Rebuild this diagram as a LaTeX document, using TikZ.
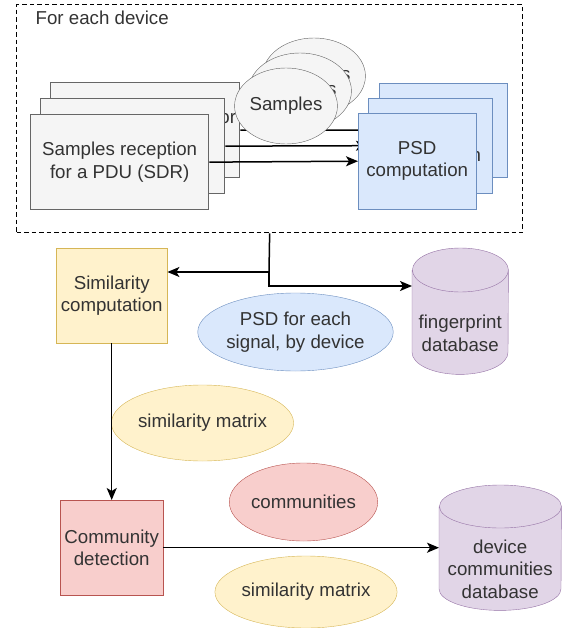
\documentclass[tikz,border=0pt]{standalone}
\usepackage{fontspec}
\setmainfont{Liberation Sans}
\usetikzlibrary{shapes.geometric,arrows.meta}

\definecolor{grayfill}{HTML}{F5F5F5}
\definecolor{grayline}{HTML}{666666}
\definecolor{graytext}{HTML}{333333}
\definecolor{bluefill}{HTML}{DAE8FC}
\definecolor{blueline}{HTML}{6C8EBF}
\definecolor{yellowfill}{HTML}{FFF2CC}
\definecolor{yellowline}{HTML}{D6B656}
\definecolor{redfill}{HTML}{F8CECC}
\definecolor{redline}{HTML}{B85450}
\definecolor{purplefill}{HTML}{E1D5E7}
\definecolor{purpleline}{HTML}{9673A6}

\pgfdeclarelayer{front}
\pgfsetlayers{main,front}

\begin{document}
\begin{tikzpicture}[x=1pt, y=-1pt, line width=1.3pt,
	every node/.style={font=\fontsize{18.7}{22.4}\selectfont, align=center, inner sep=0pt},
	recvbox/.style={draw=grayline, fill=grayfill, text=graytext, anchor=north west, minimum height=95pt},
	smpcircle/.style={ellipse, draw=grayline, fill=grayfill, text=graytext, minimum width=90pt, minimum height=76pt},
	psdbox/.style={draw=blueline, fill=bluefill, text=graytext, anchor=north west},
	stepbox/.style={anchor=north west, minimum height=95pt, text=graytext},
	dataoval/.style={ellipse, minimum height=76pt, text=graytext},
	dbnode/.style={anchor=north west, text=graytext},
	flow/.style={-{Stealth[length=12pt, width=10pt, inset=3pt]}, draw=black, line width=1.5pt}]

	\useasboundingbox (0,0) rectangle (567,628);

	% Draw the box for each device
	\node[draw, dashed, dash pattern=on 4.5pt off 3pt, anchor=north west,
		minimum width=506pt, minimum height=228pt] (devbox) at (16,4) {};
	\node[anchor=base west, text=graytext] (devlabel) at (35,25) {For each device};

	% Draw the stacked reception boxes
	\node[recvbox, minimum width=189pt] (recvC) at (50,82) {Samples reception for\\a PDU (SDR)};
	\node[recvbox, minimum width=184pt] (recvB) at (40,98) {Samples reception\\for a PDU (SDR)};
	\node[recvbox, minimum width=178pt] (recvA) at (30,114) {Samples reception\\for a PDU (SDR)};

	% Samples, PSD boxes and database labels sit above the wires
	\begin{pgfonlayer}{front}
		\node[smpcircle] (smpC) at (314,76) {Samples};
		\node[smpcircle] (smpB) at (300,91) {Samples};
		\node[smpcircle] (smpA) at (286,106) {Samples};

		\node[psdbox, minimum width=128pt, minimum height=94pt] (psdC) at (379,83) {PSD\\computation};
		\node[psdbox, minimum width=124pt, minimum height=95pt] (psdB) at (368,98) {PSD\\computation};
		\node[psdbox, minimum width=118pt, minimum height=96pt] (psdA) at (358,113) {PSD\\computation};

		\node[dbnode, minimum width=96pt, minimum height=82pt] (fpdb) at (412,292) {fingerprint\\database};
		\node[dbnode, minimum width=122pt, minimum height=82pt] (dcdb) at (439,528) {device\\communities\\database};
	\end{pgfonlayer}

	% Draw the wires from reception to PSD
	\draw[flow] (recvC.east) -- (psdC.west);
	\draw[flow] (recvB.east) -- (psdB.west);
	\draw[flow] (recvA.east) -- (psdA.west);

	% Draw the processing steps
	\node[stepbox, draw=yellowline, fill=yellowfill, minimum width=111pt] (simbox) at (56,248) {Similarity\\computation};
	\node[stepbox, draw=redline, fill=redfill, minimum width=103pt] (commbox) at (60,500) {Community\\detection};

	\node[dataoval, draw=blueline, fill=bluefill, minimum width=157pt, minimum height=78pt] (psdoval) at (295.5,332) {PSD for each\\signal, by device};
	\node[dataoval, draw=yellowline, fill=yellowfill, minimum width=171pt] (simoval) at (202.5,423) {similarity matrix};
	\node[dataoval, draw=redline, fill=redfill, minimum width=139pt, minimum height=78pt] (commoval) at (303.5,502) {communities};
	\node[dataoval, draw=yellowline, fill=yellowfill, minimum width=152pt, minimum height=72pt] (simoval2) at (306,592) {similarity matrix};

	% Draw the databases
	\fill[purplefill] ([yshift=22pt]fpdb.north west) -- ([yshift=22pt]fpdb.south west)
		arc[start angle=180, end angle=360, x radius=48pt, y radius=22pt]
		-- ([yshift=22pt]fpdb.north east)
		arc[start angle=0, end angle=180, x radius=48pt, y radius=22pt] -- cycle;
	\draw[purpleline] ([yshift=22pt]fpdb.north west) -- ([yshift=22pt]fpdb.south west)
		arc[start angle=180, end angle=360, x radius=48pt, y radius=22pt]
		-- ([yshift=22pt]fpdb.north east)
		arc[start angle=0, end angle=180, x radius=48pt, y radius=22pt]
		arc[start angle=180, end angle=360, x radius=48pt, y radius=22pt];

	\fill[purplefill] ([yshift=21.5pt]dcdb.north west) -- ([yshift=21.5pt]dcdb.south west)
		arc[start angle=180, end angle=360, x radius=61pt, y radius=21.5pt]
		-- ([yshift=21.5pt]dcdb.north east)
		arc[start angle=0, end angle=180, x radius=61pt, y radius=21.5pt] -- cycle;
	\draw[purpleline] ([yshift=21.5pt]dcdb.north west) -- ([yshift=21.5pt]dcdb.south west)
		arc[start angle=180, end angle=360, x radius=61pt, y radius=21.5pt]
		-- ([yshift=21.5pt]dcdb.north east)
		arc[start angle=0, end angle=180, x radius=61pt, y radius=21.5pt]
		arc[start angle=180, end angle=360, x radius=61pt, y radius=21.5pt];

	% Draw the connectors between the steps
	\coordinate (fork) at (269,272);
	\draw[black, line width=1.5pt] (devbox.south) -- (fork);
	\draw[flow] (fork) -- (fork -| simbox.east);
	\draw[flow] (fork) |- ([yshift=6pt]fpdb.north west);
	\draw[flow] (simbox.south) -- (commbox.north);
	\draw[flow] (commbox.east) -- (commbox.east -| dcdb.west);

\end{tikzpicture}
\end{document}
